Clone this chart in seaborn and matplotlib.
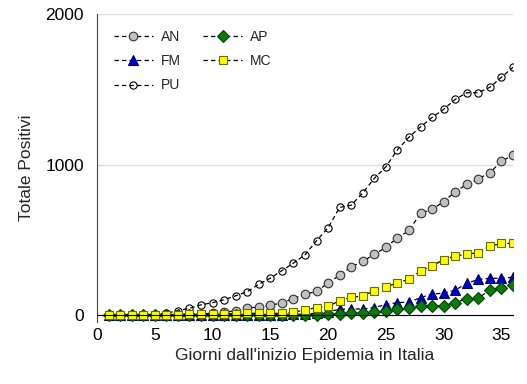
import matplotlib
matplotlib.use("Agg")
import matplotlib.pyplot as plt
import numpy as np
import pandas as pd
import seaborn as sns

sns.set_style("white")
plt.rcParams['font.family'] = ['Liberation Sans', 'DejaVu Sans']

days = list(range(1, 37))

an = [0, 0, 0, 0, 1, 2, 3, 5, 8, 12, 18, 30, 45, 55, 66, 80, 110, 137,
      158, 212, 265, 320, 357, 403, 450, 513, 562, 676, 702, 753, 820, 868,
      904, 946, 1021, 1063]
fm = [0, 0, 0, 0, 0, 0, 0, 0, 0, 0, 0, 0, 0, 0, 0, 2, 4, 6,
      12, 22, 38, 41, 40, 50, 70, 83, 85, 116, 140, 145, 166, 210,
      237, 244, 244, 252]
pu = [0, 0, 1, 3, 5, 11, 30, 45, 68, 82, 102, 128, 155, 205, 245, 295, 345, 400,
      494, 580, 715, 730, 812, 908, 985, 1098, 1182, 1250, 1313, 1367, 1433, 1477,
      1477, 1513, 1580, 1646]
ap = [0, 0, 0, 0, 0, 0, 0, 0, 0, 0, 0, 0, 0, 0, 0, 0, 1, 2,
      3, 5, 10, 11, 13, 22, 26, 39, 44, 57, 59, 63, 82, 110,
      114, 166, 182, 197]
mc = [0, 0, 0, 0, 0, 1, 3, 4, 5, 6, 8, 10, 12, 11, 11, 12, 20, 33,
      50, 58, 95, 118, 127, 161, 186, 215, 238, 293, 327, 368, 392, 404,
      414, 458, 476, 476]

series = [
    ("AN", an, dict(marker='o', markersize=6.2, markerfacecolor='#c0c0c0', markeredgecolor='#333333')),
    ("FM", fm, dict(marker='^', markersize=6.8, markerfacecolor='#0000cc', markeredgecolor='#000066')),
    ("PU", pu, dict(marker='o', markersize=5.2, markerfacecolor='none', markeredgecolor='black')),
    ("AP", ap, dict(marker='D', markersize=5.8, markerfacecolor='#0a7a0a', markeredgecolor='#034003')),
    ("MC", mc, dict(marker='s', markersize=6.0, markerfacecolor='#ffff00', markeredgecolor='#6b6b00')),
]

fig = plt.figure(figsize=(5.27, 3.84), dpi=100)
ax = fig.add_axes([0.184, 0.1615, 0.7894, 0.802])

for name, vals, kw in series:
    df = pd.DataFrame({'day': days, 'val': vals})
    sns.lineplot(data=df, x='day', y='val', ax=ax, color='black', linewidth=0.9,
                 linestyle=(0, (3.5, 2.5)), markeredgewidth=0.8, label=name, **kw)

ax.set_xlim(0, 36)
ax.set_ylim(-46, 2000)
ax.set_xticks(range(0, 36, 5))
ax.set_yticks([0, 1000, 2000])
ax.yaxis.grid(True, color='#dddddd', linewidth=1)
ax.set_axisbelow(True)
for s in ['top', 'right']:
    ax.spines[s].set_visible(False)
ax.spines['bottom'].set_position(('data', 0))
ax.spines['bottom'].set_color('black')
ax.spines['left'].set_color('#444444')
ax.tick_params(axis='both', labelsize=12.5, length=6, width=1, direction='out', colors='black')
ax.tick_params(axis='x', color='#888888', pad=3)

ax.set_xlabel("Giorni dall'inizio Epidemia in Italia", fontsize=12.5)
ax.set_ylabel("Totale Positivi", fontsize=12.5, labelpad=8)
ax.xaxis.set_label_coords(0.5, -0.085)

ax.legend(ncol=2, loc='upper left', frameon=False, fontsize=10,
          bbox_to_anchor=(0.01, 0.99), handlelength=2.8, columnspacing=1.6,
          labelspacing=0.75, handletextpad=0.6)

fig.savefig("out.png", dpi=100)
